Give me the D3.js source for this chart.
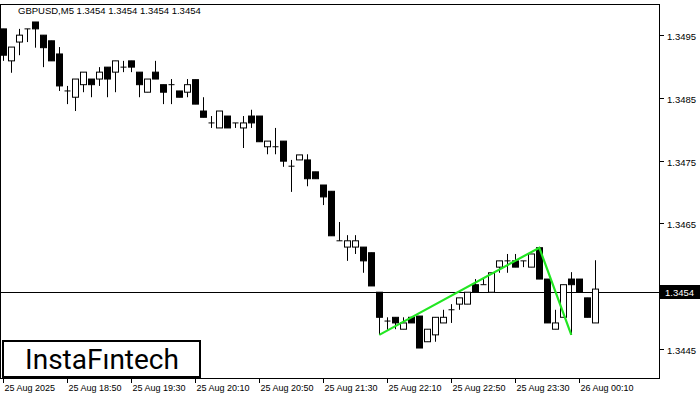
<!DOCTYPE html>
<html><head><meta charset="utf-8">
<script src="https://cdn.jsdelivr.net/npm/d3@7"></script>
<style>body{margin:0;background:#fff}text{font-family:"Liberation Sans",sans-serif}</style>
</head><body>
<svg id="c" width="700" height="400"></svg>
<script>
// OHLC in points above 1.3440 (1 point = 0.00001)
var opens  = [560,509,539,560,571,550,541,520,461,451,471,480,480,499,491,499,509,491,459,491,471,471,461,459,479,429,410,402,421,410,402,421,421,372,372,381,341,351,351,332,311,301,222,212,212,212,203,140,94,100,81,100,102,61,72,91,112,121,121,152,152,140,180,190,190,190,180,211,161,81,100,161,161,131,91];
var highs  = [560,531,560,560,571,550,541,531,469,480,491,480,499,499,509,509,509,491,480,509,471,480,461,480,479,451,421,429,421,410,421,431,421,381,402,381,351,359,360,332,311,301,252,231,231,212,203,140,100,100,100,100,102,81,100,112,121,131,140,161,161,171,190,201,201,190,201,211,161,112,152,172,161,131,191];
var lows   = [509,490,518,539,530,499,509,461,440,429,459,451,469,451,459,491,491,451,459,480,440,440,451,451,440,419,402,402,402,402,370,402,380,360,360,340,300,351,309,321,279,230,222,190,201,171,150,72,80,81,81,91,51,61,61,91,91,112,121,140,152,140,171,171,180,180,180,161,91,81,100,72,140,100,91];
var closes = [518,531,550,559,560,530,509,469,461,480,491,471,491,480,509,499,499,471,480,480,459,471,451,471,440,419,410,429,402,410,410,410,380,381,372,349,341,359,321,321,292,230,222,222,222,190,150,100,94,91,91,91,51,81,100,100,112,131,140,140,152,171,190,190,180,190,201,161,91,91,152,152,140,100,145];
var timeLabels = ["25 Aug 2025","25 Aug 18:50","25 Aug 19:30","25 Aug 20:10","25 Aug 20:50","25 Aug 21:30","25 Aug 22:10","25 Aug 22:50","25 Aug 23:30","26 Aug 00:10"];
var priceTicks = [1.3445,1.3455,1.3465,1.3475,1.3485,1.3495];
var patternIdx = [47,67,71];
var patternPts = [72,211,72];
var lastPrice = 1.3454;

var base = 1.3440;
var svg = d3.select("#c");
var x = d3.scaleLinear().domain([0,1]).range([3.3,11.3]);
var y = d3.scaleLinear().domain([1.3440,1.3500]).range([380,3.8]);
function p(v){ return base + v/100000; }

svg.append("rect").attr("x",0.5).attr("y",4.5).attr("width",659).attr("height",374)
   .attr("fill","none").attr("stroke","#000");

// current price line
svg.append("line").attr("x1",0).attr("x2",660).attr("y1",Math.round(y(lastPrice))+0.5).attr("y2",Math.round(y(lastPrice))+0.5)
   .attr("stroke","#000");

var g = svg.append("g");
opens.forEach(function(o,i){
    var cx = Math.round(x(i))+0.5;
    var h = p(highs[i]), l = p(lows[i]), op = p(o), cl = p(closes[i]);
    g.append("line").attr("x1",cx).attr("x2",cx).attr("y1",y(h)).attr("y2",y(l)).attr("stroke","#000");
    var top = y(Math.max(op,cl)), bot = y(Math.min(op,cl));
    if (bot-top < 1) {
        g.append("line").attr("x1",cx-3).attr("x2",cx+3).attr("y1",top).attr("y2",top).attr("stroke","#000");
    } else {
        g.append("rect").attr("x",cx-3).attr("y",top).attr("width",6).attr("height",bot-top)
         .attr("fill", cl<op ? "#000" : "#fff").attr("stroke","#000");
    }
});

// pattern line
svg.append("path")
   .attr("d", d3.line()(patternIdx.map(function(d,i){ return [x(d), y(p(patternPts[i]))]; })))
   .attr("fill","none").attr("stroke","#22e622").attr("stroke-width",2.2);

// right axis
priceTicks.forEach(function(t){
    var yy = Math.round(y(t))+0.5;
    svg.append("line").attr("x1",660).attr("x2",664).attr("y1",yy).attr("y2",yy).attr("stroke","#000");
    svg.append("text").attr("x",667).attr("y",yy+4).attr("font-size",9.5).text(t.toFixed(4));
});
var ly = Math.round(y(lastPrice));
svg.append("rect").attr("x",660).attr("y",ly-7).attr("width",40).attr("height",14).attr("fill","#000");
svg.append("text").attr("x",665).attr("y",ly+4).attr("font-size",9.5).attr("fill","#fff").text(lastPrice.toFixed(4));

// bottom axis
timeLabels.forEach(function(t,i){
    var xx = Math.round(x(i*8))+0.5;
    svg.append("line").attr("x1",xx).attr("x2",xx).attr("y1",378).attr("y2",383).attr("stroke","#000");
    svg.append("text").attr("x",xx+1).attr("y",391).attr("font-size",9).text(t);
});

svg.append("text").attr("x",18).attr("y",14).attr("font-size",9.5).text("GBPUSD,M5  1.3454 1.3454 1.3454 1.3454");

// logo
svg.append("rect").attr("x",3).attr("y",341).attr("width",197).attr("height",36)
   .attr("fill","#fff").attr("stroke","#000").attr("stroke-width",2);
svg.append("text").attr("x",102).attr("y",369).attr("text-anchor","middle")
   .attr("font-size",28).style("font-family","Roboto, sans-serif").text("InstaFıntech");
</script>
</body></html>
